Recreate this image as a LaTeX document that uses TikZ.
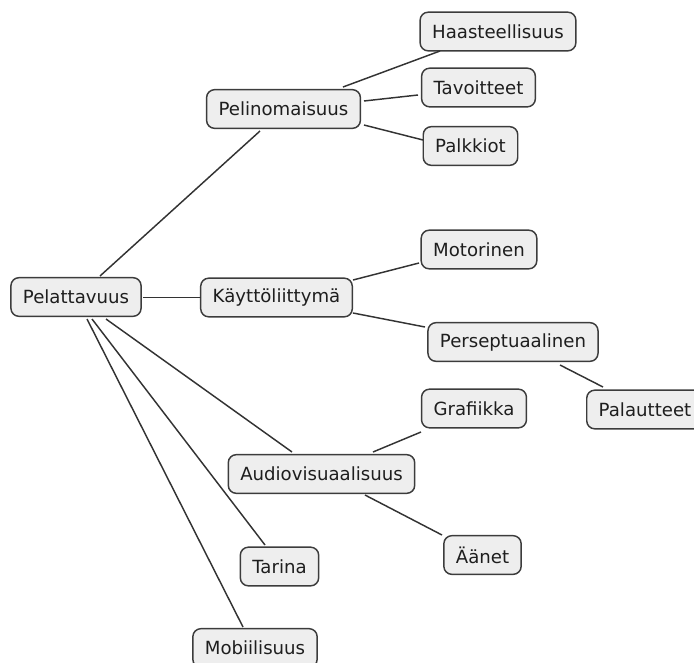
\documentclass[tikz,border=0pt]{standalone}
\usepackage{fontspec}
\setmainfont{DejaVu Sans}
\definecolor{boxfill}{HTML}{EEEEEE}
\definecolor{boxline}{HTML}{3C3C3C}
\definecolor{linkline}{HTML}{333333}
\definecolor{labeltext}{HTML}{1E1E1E}
\begin{document}
\begin{tikzpicture}[x=0.75pt,y=-0.75pt,
  topic/.style={draw=boxline, fill=boxfill, line width=1.1pt, rounded corners=6pt,
    minimum height=29pt, inner xsep=9pt, inner ysep=0pt, text=labeltext,
    font=\fontsize{13.6}{15}\selectfont},
  link/.style={draw=linkline, line width=1.1pt}]
\useasboundingbox (0,0) rectangle (694,662);
\begin{scope}
\clip (0,0) rectangle (694,662);
% main topic
\node[topic] (pel) at (76,297) {Pelattavuus};
% branches
\node[topic] (pin) at (283.5,109) {Pelinomaisuus};
\node[topic] (kay) at (276.5,297.5) {Käyttöliittymä};
\node[topic] (aud) at (321.5,474) {Audiovisuaalisuus};
\node[topic] (tar) at (279.5,566.5) {Tarina};
\node[topic] (mob) at (255,648) {Mobiilisuus};
% sub-topics
\node[topic] (haa) at (498,31.5) {Haasteellisuus};
\node[topic] (tav) at (478.5,87.5) {Tavoitteet};
\node[topic] (pal) at (470.5,146) {Palkkiot};
\node[topic] (mot) at (479,249.5) {Motorinen};
\node[topic] (per) at (513,342) {Perseptuaalinen};
\node[topic] (pla) at (645,409.5) {Palautteet};
\node[topic] (gra) at (474,408.5) {Grafiikka};
\node[topic] (aan) at (482.5,555) {Äänet};
% connectors from the main topic
\draw[link] ([shift={(24,-21)}]pel.center) -- ([shift={(-23.5,22)}]pin.center);
\draw[link] ([shift={(67,0.5)}]pel.center) -- ([shift={(-75.5,0)}]kay.center);
\draw[link] ([shift={(30,22)}]pel.center) -- ([shift={(-29.5,-22)}]aud.center);
\draw[link] ([shift={(16,22)}]pel.center) -- ([shift={(-14.5,-21.5)}]tar.center);
\draw[link] ([shift={(11,22)}]pel.center) -- ([shift={(-12,-21)}]mob.center);
% connectors to sub-topics
\draw[link] ([shift={(59.5,-22)}]pin.center) -- ([shift={(-58,19.5)}]haa.center);
\draw[link] ([shift={(80.5,-8)}]pin.center) -- ([shift={(-60.5,7.5)}]tav.center);
\draw[link] ([shift={(80.5,16)}]pin.center) -- ([shift={(-47.5,-6)}]pal.center);
\draw[link] ([shift={(76.5,-17.5)}]kay.center) -- ([shift={(-60,13.5)}]mot.center);
\draw[link] ([shift={(76.5,15.5)}]kay.center) -- ([shift={(-88,-15)}]per.center);
\draw[link] ([shift={(47,23)}]per.center) -- ([shift={(-42,-22.5)}]pla.center);
\draw[link] ([shift={(51.5,-22)}]aud.center) -- ([shift={(-53,23.5)}]gra.center);
\draw[link] ([shift={(43.5,21)}]aud.center) -- ([shift={(-40.5,-20)}]aan.center);
\end{scope}
\end{tikzpicture}
\end{document}
